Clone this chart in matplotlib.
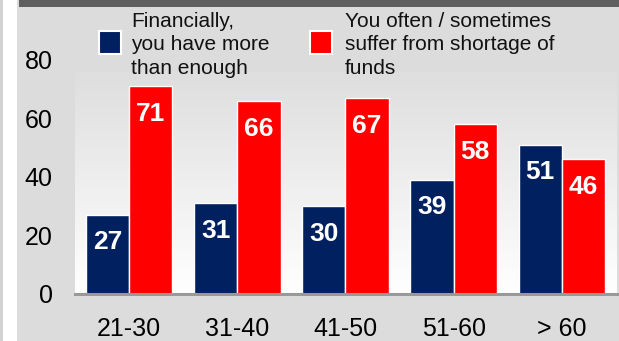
import matplotlib
matplotlib.use("Agg")
import matplotlib.pyplot as plt
from matplotlib.patches import Rectangle
import numpy as np

plt.rcParams["font.family"] = ["Liberation Sans", "DejaVu Sans"]

ageGroups = ["21-30", "31-40", "41-50", "51-60", "> 60"]
moreThanEnough = [27, 31, 30, 39, 51]
shortOfFunds = [71, 66, 67, 58, 46]
seriesNames = ["Financially,\nyou have more\nthan enough",
               "You often / sometimes\nsuffer from shortage of\nfunds"]
seriesColors = ["#002060", "#ff0000"]

W, H = 619, 341
fig = plt.figure(figsize=(W / 100, H / 100), dpi=100, facecolor="#dcdcdc")

# frame decorations around the chart panel
fig.add_artist(Rectangle((0, 0), 3 / W, 1, transform=fig.transFigure, color="#d2d2d2", lw=0))
fig.add_artist(Rectangle((3 / W, 0), 14 / W, 1, transform=fig.transFigure, color="white", lw=0))
fig.add_artist(Rectangle((19 / W, 1 - 7 / H), 1, 7 / H, transform=fig.transFigure, color="#5f5f5f", lw=0))

ax = fig.add_axes([75 / W, (H - 293.5) / H, 542 / W, 268.6 / H])
ax.set_facecolor("#dcdcdc")

x = np.arange(len(ageGroups))
width = 0.4

# background gradient: light gray at top to white at bottom
grad = np.linspace(255, 222, 256).reshape(-1, 1) / 255.0
grad = np.dstack([grad, grad, grad])
ax.imshow(grad, extent=[-0.5, 4.51, 0, 76], origin="lower", aspect="auto", zorder=0)

blueBars = ax.bar(x - width / 2, moreThanEnough, width, color=seriesColors[0],
                  edgecolor="white", linewidth=1, zorder=2)
redBars = ax.bar(x + width / 2, shortOfFunds, width, color=seriesColors[1],
                 edgecolor="white", linewidth=1, zorder=2)

for bars, vals in [(blueBars, moreThanEnough), (redBars, shortOfFunds)]:
    for b, v in zip(bars, vals):
        ax.annotate(str(v), (b.get_x() + b.get_width() / 2, v), xytext=(0, -20),
                    textcoords="offset points", ha="center", va="center",
                    color="white", fontsize=19, fontweight="bold", zorder=3)

ax.set_xlim(-0.5, 4.51)
ax.set_ylim(0, 92)
ax.set_yticks([0, 20, 40, 60, 80])
ax.set_xticks(x)
ax.set_xticklabels(ageGroups)
ax.tick_params(axis="both", length=0, labelsize=18)
ax.tick_params(axis="y", pad=16)
ax.tick_params(axis="x", pad=17)
for s in ["top", "left", "right"]:
    ax.spines[s].set_visible(False)
ax.spines["bottom"].set_color("#999999")
ax.spines["bottom"].set_linewidth(2.2)
ax.spines["bottom"].set_zorder(4)

# legend drawn by hand
legendItems = [(99, 131), (310, 345)]
for (sqX, txtX), name, col in zip(legendItems, seriesNames, seriesColors):
    fig.add_artist(Rectangle((sqX / W, 1 - 54 / H), 22 / W, 23 / H, transform=fig.transFigure,
                             facecolor=col, edgecolor="white", lw=1.5, zorder=5))
    fig.text(txtX / W, 1 - 45 / H, name, ha="left", va="center", fontsize=15,
             linespacing=1.3, color="#111111", zorder=5)

fig.savefig("out.png", dpi=100, facecolor=fig.get_facecolor())
